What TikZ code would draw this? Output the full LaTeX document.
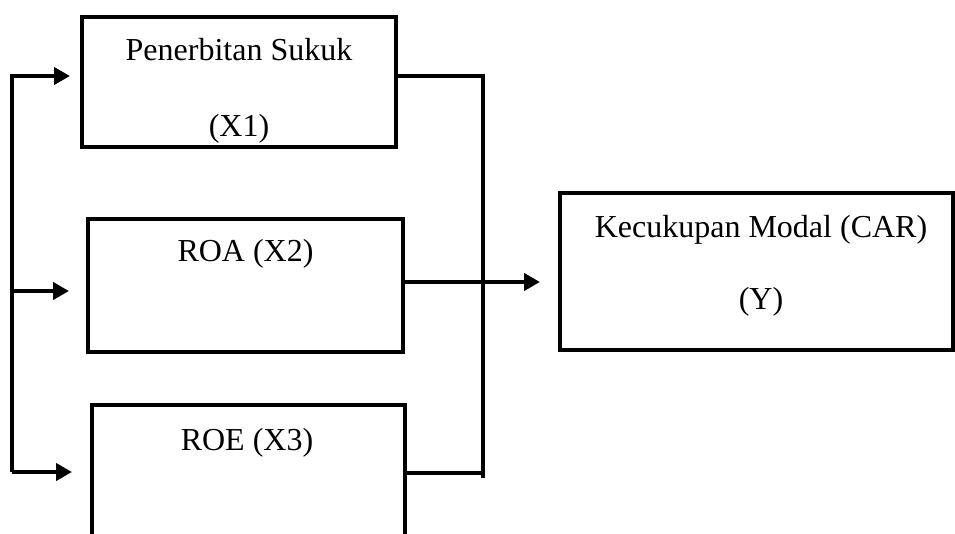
\documentclass[tikz,border=0pt]{standalone}
\usepackage{fontspec}
\setmainfont{Liberation Serif}
\usetikzlibrary{arrows.meta}
\tikzset{
  varbox/.style={draw,line width=4pt,inner sep=0pt,outer sep=0pt},
  txt/.style={anchor=base,inner sep=0pt,font=\fontsize{32}{38}\selectfont},
  link/.style={line width=4pt},
  arr/.style={link,-{Triangle[length=16pt,width=17pt]}}
}
\begin{document}
\begin{tikzpicture}[x=1pt,y=-1pt]
\useasboundingbox (0,0) rectangle (955,533);
\clip (0,0) rectangle (955,533);
\node[varbox,minimum width=314pt,minimum height=130pt] (x1) at (239,82) {};
\node[varbox,minimum width=315pt,minimum height=133pt] (x2) at (245.5,285.5) {};
\node[varbox,minimum width=313pt,minimum height=134pt] (x3) at (248.5,472) {};
\node[varbox,minimum width=393pt,minimum height=157pt] (y) at (756.5,271.5) {};
\node[txt] (x1a) at (239,60) {Penerbitan Sukuk};
\node[txt] (x1b) at (239,136) {(X1)};
\node[txt] (x2a) at (245.5,261) {ROA (X2)};
\node[txt] (x3a) at (247,450) {ROE (X3)};
\node[txt] (ya) at (761,237) {Kecukupan Modal (CAR)};
\node[txt] (yb) at (761,309) {(Y)};
\coordinate (lt) at (12,76);
\coordinate (lm) at (12,291);
\coordinate (lb) at (12,472);
\coordinate (rt) at (483,76);
\coordinate (rm) at (483,282);
\coordinate (r3) at (483,473);
\coordinate (rb) at (483,478);
\draw[arr,shorten >=12pt] (lb) -- (lt) -- (lt -| x1.west);
\draw[arr,shorten >=19pt] (lm) -- (lm -| x2.west);
\draw[arr,shorten >=20pt] (lb) -- (lb -| x3.west);
\draw[link] (x1.east |- rt) -- (rt) -- (rb);
\draw[link] (x3.east |- r3) -- (r3);
\draw[arr,shorten >=20pt] (x2.east |- rm) -- (rm -| y.west);
\end{tikzpicture}
\end{document}
